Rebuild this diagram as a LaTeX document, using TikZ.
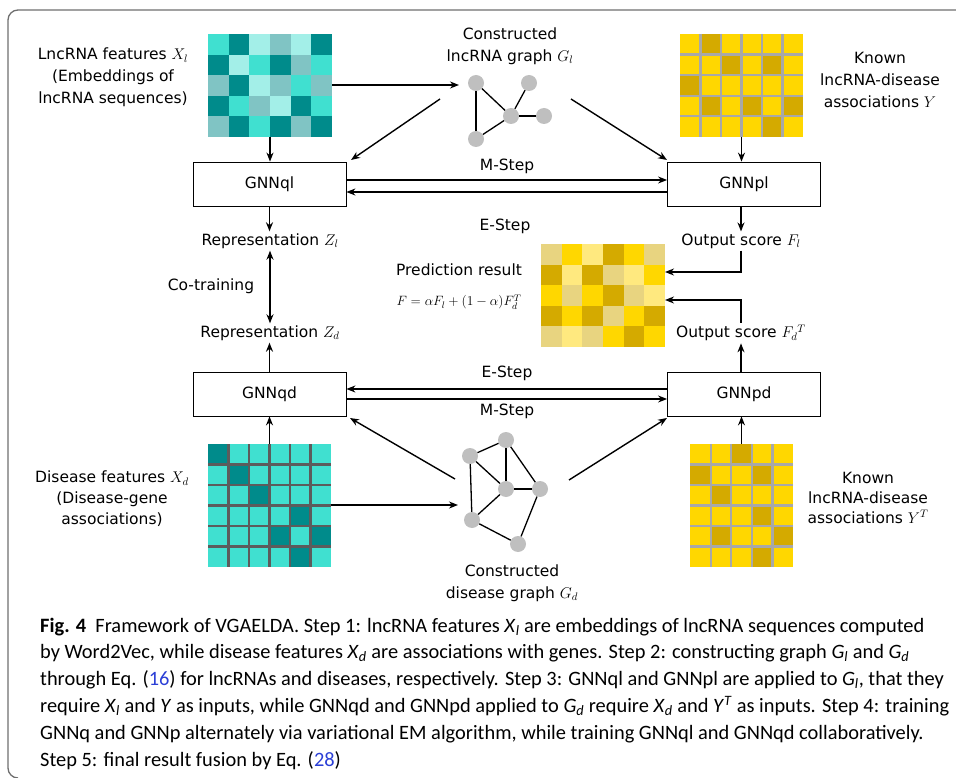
\RequirePackage{fix-cm}
\documentclass[tikz,border=0pt]{standalone}
\usepackage{fontspec}
\setmainfont{DejaVu Sans}
\newfontfamily\capfont{Carlito}
\usetikzlibrary{arrows.meta,calc}
\definecolor{cT}{HTML}{40E0D0}
\definecolor{cD}{HTML}{008B8B}
\definecolor{cP}{HTML}{A3EFE8}
\definecolor{cG}{HTML}{80C4C4}
\definecolor{cY}{HTML}{FFD700}
\definecolor{cE}{HTML}{D4AA00}
\definecolor{cK}{HTML}{E8D480}
\definecolor{cL}{HTML}{FFE97F}
\definecolor{gridY}{HTML}{A8A8A8}
\definecolor{gridT}{HTML}{5C5C5C}
\definecolor{gnodec}{HTML}{BFBFBF}
\definecolor{frameC}{HTML}{6E6E6E}
\definecolor{refblue}{HTML}{2B3FD6}
\newcommand\drawmat[5]{%
  \foreach \row [count=\r] in {#5} {%
    \foreach \cc [count=\k] in \row {%
      \fill[fill=c\cc] ({#1+(\k-1)*#3},{#2+(\r-1)*#4}) rectangle ++({#3+0.3},{#4+0.3});
    }%
  }%
}
\newcommand\cv[2]{\textit{#1}\textsubscript{\textit{#2}}}
\begin{document}
\begin{tikzpicture}[x=1pt,y=-1pt,
  arr/.style={-{Stealth[length=9pt,width=7pt]}, line width=1.4pt},
  darr/.style={{Stealth[length=9pt,width=7pt]}-{Stealth[length=9pt,width=7pt]}, line width=1.4pt},
  gnnbox/.style={draw, line width=0.8pt, minimum width=153pt, minimum height=44pt, inner sep=0pt, font=\fontsize{15.5}{18}\selectfont},
  lbl/.style={inner sep=2pt, align=center, font=\fontsize{15.5}{22}\selectfont},
  gnode/.style={circle, fill=gnodec, minimum size=16pt, inner sep=0pt},
  gedge/.style={line width=1.3pt},
  gedgeT/.style={line width=2.4pt},
  matbox/.style={inner sep=0pt},
  capline/.style={anchor=base west, inner sep=0pt, font=\capfont\fontsize{20.4}{24}\selectfont}
]
\useasboundingbox (0,0) rectangle (956,778);
% frame
\draw[frameC, line width=1.3pt] (956,10) -- (18,10) arc[start angle=270, end angle=180, radius=10] -- (8,768) arc[start angle=180, end angle=90, radius=10];

% ---------- matrices ----------
\drawmat{208}{34}{20.67}{20.6}{{T,D,P,G,P,D},{D,P,T,D,G,T},{G,D,P,G,T,G},{D,T,G,P,D,T},{G,D,T,D,G,D}}
\node[matbox, minimum width=124pt, minimum height=103pt] (mTL) at (270,85.5) {};

\drawmat{680}{34}{20.5}{20.6}{{Y,E,Y,Y,Y,Y},{Y,Y,E,Y,E,Y},{E,Y,Y,Y,Y,Y},{Y,E,Y,E,Y,E},{Y,Y,Y,Y,E,Y}}
\foreach \k in {1,...,5} \draw[gridY, line width=2.2pt] ({680+\k*20.5},34) -- ++(0,103);
\foreach \k in {1,...,4} \draw[gridY, line width=2.2pt] (680,{34+\k*20.6}) -- ++(123,0);
\node[matbox, minimum width=123pt, minimum height=103pt] (mTR) at (741.5,85.5) {};

\drawmat{541}{244}{20.67}{20.6}{{K,Y,L,E,Y,K},{E,L,E,K,L,Y},{Y,K,Y,E,K,L},{E,Y,E,K,Y,E},{K,L,K,Y,E,Y}}
\node[matbox, minimum width=124pt, minimum height=103pt] (mPred) at (603,295.5) {};

\drawmat{208}{444}{20.5}{20.5}{{D,T,T,T,T,T},{T,D,T,T,T,T},{T,T,D,T,T,T},{T,T,T,T,D,T},{T,T,T,D,T,D},{T,T,T,T,D,T}}
\foreach \k in {1,...,5} \draw[gridT, line width=2.2pt] ({208+\k*20.5},444) -- ++(0,123);
\foreach \k in {1,...,5} \draw[gridT, line width=2.2pt] (208,{444+\k*20.5}) -- ++(123,0);
\node[matbox, minimum width=123pt, minimum height=123pt] (mBL) at (269.5,505.5) {};

\drawmat{690}{444}{20.6}{20.5}{{Y,Y,E,Y,Y},{E,Y,Y,E,Y},{Y,E,Y,Y,Y},{Y,Y,Y,E,Y},{Y,E,Y,Y,E},{Y,Y,Y,E,Y}}
\foreach \k in {1,...,4} \draw[gridY, line width=2.2pt] ({690+\k*20.6},444) -- ++(0,123);
\foreach \k in {1,...,5} \draw[gridY, line width=2.2pt] (690,{444+\k*20.5}) -- ++(103,0);
\node[matbox, minimum width=103pt, minimum height=123pt] (mBR) at (741.5,505.5) {};

% ---------- lncRNA graph ----------
\node[gnode] (l1) at (476,83) {};
\node[gnode] (l2) at (529,83) {};
\node[gnode] (l3) at (511,116) {};
\node[gnode] (l4) at (544,116) {};
\node[gnode] (l5) at (476,139) {};
\draw[gedge] (l1) -- (l3);
\draw[gedge] (l2) -- (l3);
\draw[gedge] (l1) -- (l5);
\draw[gedge] (l5) -- (l3);
\draw[gedgeT] (l3) -- (l4);

% ---------- disease graph ----------
\node[gnode] (d1) at (470,456) {};
\node[gnode] (d2) at (506,440) {};
\node[gnode] (d3) at (506,489) {};
\node[gnode] (d4) at (540,489) {};
\node[gnode] (d5) at (472,520) {};
\node[gnode] (d6) at (518,544) {};
\draw[gedge] (d1) -- (d2);
\draw[gedge] (d1) -- (d3);
\draw[gedge] (d1) -- (d5);
\draw[gedge] (d2) -- (d3);
\draw[gedge] (d2) -- (d4);
\draw[gedgeT] (d3) -- (d4);
\draw[gedge] (d3) -- (d5);
\draw[gedge] (d5) -- (d6);
\draw[gedge] (d4) -- (d6);

% ---------- boxes ----------
\node[gnnbox] (GNNql) at (269.5,184) {GNNql};
\node[gnnbox] (GNNpl) at (744,184) {GNNpl};
\node[gnnbox] (GNNqd) at (269.5,394) {GNNqd};
\node[gnnbox] (GNNpd) at (744,394) {GNNpd};

% ---------- labels ----------
\node[lbl] (tGl) at (510,46) {Constructed\\lncRNA graph $G_l$};
\node[lbl] (tXl) at (113,77.5) {LncRNA features $X_l$\\(Embeddings of\\lncRNA sequences)};
\node[lbl] (tY) at (880,80) {Known\\lncRNA-disease\\associations $Y$};
\node[lbl] (tM1) at (507,166) {M-Step};
\node[lbl] (tE1) at (505,226) {E-Step};
\node[lbl] (RepZl) at (270,241) {Representation $Z_l$};
\node[lbl] (OutFl) at (741,241) {Output score $F_l$};
\node[lbl] (tCo) at (211,286) {Co-training};
\node[lbl] (tPred) at (459,270) {Prediction result};
\node[inner sep=0pt, font=\fontsize{13.5}{15}\selectfont] (tF) at (459,302) {$F=\alpha F_l+(1-\alpha)F_d^T$};
\node[lbl] (RepZd) at (270,333) {Representation $Z_d$};
\node[lbl] (OutFd) at (741,333) {Output score $F_d{}^T$};
\node[lbl] (tE2) at (507,373) {E-Step};
\node[lbl] (tM2) at (507,411) {M-Step};
\node[lbl, font=\fontsize{15.5}{21}\selectfont] (tXd) at (112,499) {Disease features $X_d$\\(Disease-gene\\associations)};
\node[lbl, font=\fontsize{15.5}{20}\selectfont] (tYT) at (868,498) {Known\\lncRNA-disease\\associations $Y^T$};
\node[lbl] (tGd) at (512,583) {Constructed\\disease graph $G_d$};

% ---------- connectors ----------
\coordinate (inL) at (459,85);
\draw[arr] (mTL.east |- inL) -- (inL);
\coordinate (inD) at (458,505);
\draw[arr] (mBL.east |- inD) -- (inD);

\draw[arr] (mTL.south) -- (mTL.south |- GNNql.north);
\draw[arr] (mTR.south) -- (mTR.south |- GNNpl.north);
\draw[arr] (mBL.north) -- (mBL.north |- GNNqd.south);
\draw[arr] (mBR.north) -- (mBR.north |- GNNpd.south);

\coordinate (gLa) at (440,99);
\coordinate (gLaE) at (351,160);
\draw[arr] (gLa) -- (gLaE);
\coordinate (gLb) at (571,99);
\coordinate (gLbE) at (667,160);
\draw[arr] (gLb) -- (gLbE);
\coordinate (gDa) at (455,479);
\coordinate (gDaE) at (350,418);
\draw[arr] (gDa) -- (gDaE);
\coordinate (gDb) at (569,480);
\coordinate (gDbE) at (667,418);
\draw[arr] (gDb) -- (gDbE);

\draw[arr] ([yshift=4pt]GNNql.east) -- ([yshift=4pt]GNNpl.west);
\draw[arr] ([yshift=-8pt]GNNpl.west) -- ([yshift=-8pt]GNNql.east);
\draw[arr] ([yshift=5pt]GNNpd.west) -- ([yshift=5pt]GNNqd.east);
\draw[arr] ([yshift=-5pt]GNNqd.east) -- ([yshift=-5pt]GNNpd.west);

\draw[arr] (GNNql.south) -- (RepZl.north -| GNNql.south);
\draw[arr] (GNNpl.south -| OutFl.north) -- (OutFl.north);
\draw[arr] (GNNqd.north) -- (RepZd.south -| GNNqd.north);
\draw[arr] (GNNpd.north -| OutFd.south) -- (OutFd.south);
\draw[darr] (RepZl.south) -- (RepZd.north);

\coordinate (pA) at (665,272);
\coordinate (pB) at (665,300);
\draw[arr] (OutFl.south) |- (pA);
\draw[arr] (OutFd.north) |- (pB);

% ---------- caption ----------
\node[capline] (c1) at (40,632) {\textbf{Fig. 4}\ \ Framework of VGAELDA. Step 1: lncRNA features \cv{X}{l} are embeddings of lncRNA sequences computed};
\node[capline] (c2) at (40,658.8) {by Word2Vec, while disease features \cv{X}{d} are associations with genes. Step 2: constructing graph \cv{G}{l} and \cv{G}{d}};
\node[capline] (c3) at (40,685.6) {through Eq. (\textcolor{refblue}{16}) for lncRNAs and diseases, respectively. Step 3: GNNql and GNNpl are applied to \cv{G}{l}, that they};
\node[capline] (c4) at (40,712.4) {require \cv{X}{l} and \textit{Y} as inputs, while GNNqd and GNNpd applied to \cv{G}{d} require \cv{X}{d} and \textit{Y}\textsuperscript{\textit{T}} as inputs. Step 4: training};
\node[capline] (c5) at (40,739.2) {GNNq and GNNp alternately via variational EM algorithm, while training GNNql and GNNqd collaboratively.};
\node[capline] (c6) at (40,766) {Step 5: final result fusion by Eq. (\textcolor{refblue}{28})};
\end{tikzpicture}
\end{document}
